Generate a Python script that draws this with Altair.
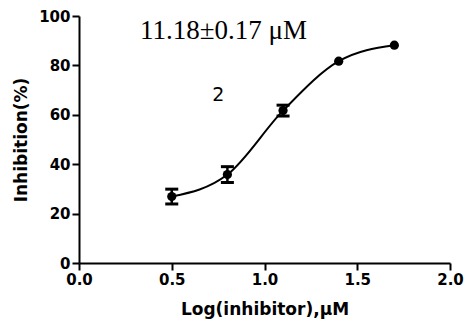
import altair as alt
import pandas as pd

# Data
log_conc = [0.5, 0.8, 1.1, 1.4, 1.7]
inhibition = [26.9, 35.8, 61.7, 81.7, 88.2]
sem = [3.0, 3.2, 2.2, 0.5, 0.4]

x_ticks = [0.0, 0.5, 1.0, 1.5, 2.0]
y_ticks = [0, 20, 40, 60, 80, 100]

ann_ic50_text = ["11.18±0.17 μM"]
ann_ic50_x = [0.329]
ann_ic50_y = [90.5]

ann_cpd_text = ["2"]
ann_cpd_x = [0.751]
ann_cpd_y = [65.7]

df = pd.DataFrame({"x": log_conc, "y": inhibition, "err": sem})
df["lo"] = df["y"] - df["err"]
df["hi"] = df["y"] + df["err"]

ic50_df = pd.DataFrame({"x": ann_ic50_x, "y": ann_ic50_y, "t": ann_ic50_text})
cpd_df = pd.DataFrame({"x": ann_cpd_x, "y": ann_cpd_y, "t": ann_cpd_text})

xs = alt.Scale(domain=[0, 2], nice=False)
ys = alt.Scale(domain=[0, 100], nice=False)

X = alt.X("x:Q", scale=xs, title="Log(inhibitor),μM",
          axis=alt.Axis(values=x_ticks, format=".1f", titlePadding=14, labelFlush=False))
Y = alt.Y("y:Q", scale=ys, title="Inhibition(%)",
          axis=alt.Axis(values=y_ticks, format="d", titlePadding=8, labelFlush=False))

base = alt.Chart(df)
# GraphPad-style: error bars shorter than the symbol are not drawn
errs = base.transform_filter("datum.err > 1")

line = base.mark_line(color="black", strokeWidth=2, interpolate="monotone").encode(x=X, y=Y)
rules = errs.mark_rule(color="black", strokeWidth=2.5).encode(
    x=alt.X("x:Q", scale=xs), y=alt.Y("lo:Q", scale=ys), y2="hi:Q")
cap_lo = errs.mark_tick(color="black", orient="horizontal", size=13, thickness=3, opacity=1).encode(
    x=alt.X("x:Q", scale=xs), y=alt.Y("lo:Q", scale=ys))
cap_hi = errs.mark_tick(color="black", orient="horizontal", size=13, thickness=3, opacity=1).encode(
    x=alt.X("x:Q", scale=xs), y=alt.Y("hi:Q", scale=ys))
points = base.mark_point(filled=True, color="black", size=85, opacity=1).encode(
    x=alt.X("x:Q", scale=xs), y=alt.Y("y:Q", scale=ys))

t1 = alt.Chart(ic50_df).mark_text(font="Liberation Serif", fontSize=27, align="left",
                                   baseline="alphabetic", color="black").encode(
    x=alt.X("x:Q", scale=xs), y=alt.Y("y:Q", scale=ys), text="t:N")
t2 = alt.Chart(cpd_df).mark_text(font="DejaVu Sans", fontSize=19, align="center",
                                  baseline="alphabetic", color="black").encode(
    x=alt.X("x:Q", scale=xs), y=alt.Y("y:Q", scale=ys), text="t:N")

chart = alt.layer(line, rules, cap_lo, cap_hi, points, t1, t2).properties(
    width=371, height=247,
    autosize="none",
    padding={"left": 79, "top": 16, "right": 16, "bottom": 59},
).configure(background="white").configure_view(stroke=None).configure_axis(
    grid=False,
    domainColor="black", domainWidth=2,
    tickColor="black", tickWidth=2, tickSize=7,
    labelFont="DejaVu Sans", labelFontWeight="bold", labelFontSize=15, labelColor="black",
    labelPadding=2,
    titleFont="DejaVu Sans", titleFontWeight="bold", titleFontSize=17, titleColor="black",
)

chart.save("out.html", embed_options={"renderer": "svg", "actions": False})
